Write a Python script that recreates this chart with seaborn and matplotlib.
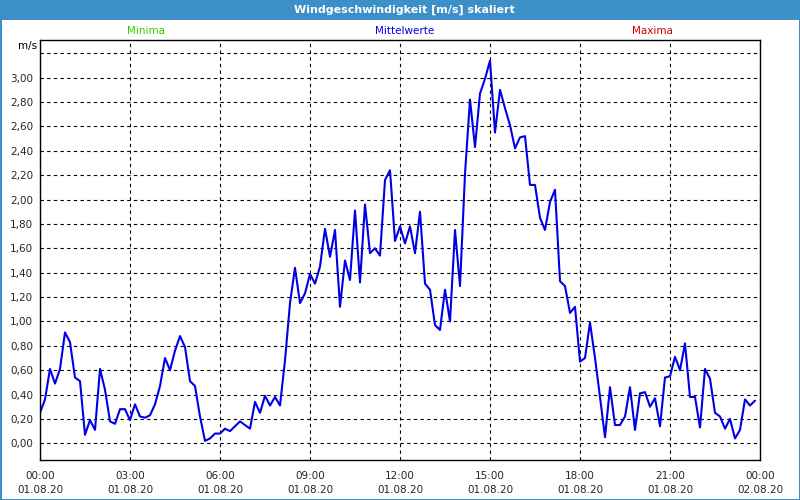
import numpy as np, pandas as pd
import seaborn as sns
import matplotlib.pyplot as plt
import matplotlib.dates as mdates
from matplotlib.patches import Rectangle
from matplotlib.ticker import FixedLocator, FuncFormatter

# 10-min mean wind speed, 01.08.20 00:00 - 23:50
wind_00_06 = [0.25, 0.36, 0.61, 0.49, 0.61, 0.91, 0.83, 0.54, 0.51, 0.07, 0.19, 0.11,
              0.61, 0.44, 0.18, 0.16, 0.28, 0.28, 0.19, 0.32, 0.22, 0.21, 0.23, 0.32,
              0.47, 0.70, 0.60, 0.76, 0.88, 0.79, 0.51, 0.47, 0.22, 0.02, 0.04, 0.08]
wind_06_12 = [0.08, 0.12, 0.10, 0.14, 0.18, 0.15, 0.12, 0.34, 0.25, 0.39, 0.31, 0.38,
              0.31, 0.68, 1.15, 1.44, 1.15, 1.23, 1.39, 1.31, 1.45, 1.76, 1.53, 1.75,
              1.12, 1.50, 1.34, 1.91, 1.32, 1.96, 1.56, 1.60, 1.54, 2.16, 2.24, 1.66]
wind_12_18 = [1.78, 1.64, 1.78, 1.56, 1.90, 1.31, 1.26, 0.97, 0.93, 1.26, 1.00, 1.75,
              1.29, 2.21, 2.82, 2.43, 2.87, 2.99, 3.14, 2.55, 2.90, 2.75, 2.61, 2.42,
              2.51, 2.52, 2.12, 2.12, 1.85, 1.75, 1.98, 2.08, 1.33, 1.29, 1.07, 1.12]
wind_18_24 = [0.67, 0.70, 0.99, 0.70, 0.38, 0.05, 0.46, 0.15, 0.15, 0.22, 0.46, 0.11,
              0.41, 0.42, 0.30, 0.37, 0.14, 0.54, 0.55, 0.71, 0.60, 0.82, 0.38, 0.38,
              0.13, 0.61, 0.53, 0.25, 0.22, 0.12, 0.20, 0.04, 0.11, 0.36, 0.31, 0.35]
values = wind_00_06 + wind_06_12 + wind_12_18 + wind_18_24
times = pd.date_range("2020-08-01 00:00", periods=len(values), freq="10min")
y_ticks = [0.0, 0.2, 0.4, 0.6, 0.8, 1.0, 1.2, 1.4, 1.6, 1.8, 2.0, 2.2, 2.4, 2.6, 2.8, 3.0, 3.2]

df = pd.DataFrame({"Zeit": times, "Mittelwerte": values})

sns.set_style("white")
plt.rcParams["font.family"] = ["DejaVu Sans"]

blue_frame = "#3d8fc7"
fig = plt.figure(figsize=(8, 5), dpi=100, facecolor="white",
                 linewidth=2, edgecolor=blue_frame)
ax = fig.add_axes([0.05, 0.08, 0.90, 0.84])

sns.lineplot(data=df, x="Zeit", y="Mittelwerte", color="#0000e6", linewidth=1.5, ax=ax)

ax.set_xlim(pd.Timestamp("2020-08-01 00:00"), pd.Timestamp("2020-08-02 00:00"))
ax.set_ylim(-0.137, 3.309)
ax.set_xlabel("")
ax.set_ylabel("")

ax.xaxis.set_major_locator(mdates.HourLocator(byhour=range(0, 24, 3)))
ax.xaxis.set_minor_locator(mdates.HourLocator())
ax.xaxis.set_major_formatter(mdates.DateFormatter("%H:%M\n%d.%m.%y"))
ax.yaxis.set_major_locator(FixedLocator(y_ticks))
ax.yaxis.set_major_formatter(FuncFormatter(
    lambda v, p: "" if v > 3.1 else f"{v:.2f}".replace(".", ",")))

ax.tick_params(axis="x", which="both", direction="out", length=4, width=0.8,
               color="black", labelsize=7.5, pad=4)
ax.tick_params(axis="y", length=0, labelsize=7.5, pad=5)
for lbl in ax.get_xticklabels():
    lbl.set_linespacing(1.45)

ax.grid(True, which="major", color="black", linestyle=(0, (3, 3)), linewidth=0.8)
for s in ax.spines.values():
    s.set_visible(True)
    s.set_color("black")
    s.set_linewidth(1)

# title bar
fig.patches.append(Rectangle((0, 1 - 20 / 500), 1, 20 / 500, transform=fig.transFigure,
                             facecolor=blue_frame, edgecolor="none", zorder=0))
fig.text(0.506, 1 - 10 / 500, "Windgeschwindigkeit [m/s] skaliert", color="white",
         fontsize=8, fontweight="bold", ha="center", va="center")

fig.text(146 / 800, 1 - 31 / 500, "Minima", color="#33cc00", fontsize=7.5, ha="center", va="center")
fig.text(405 / 800, 1 - 31 / 500, "Mittelwerte", color="#0000e6", fontsize=7.5, ha="center", va="center")
fig.text(652 / 800, 1 - 31 / 500, "Maxima", color="#cc0000", fontsize=7.5, ha="center", va="center")
fig.text(37 / 800, 1 - 46 / 500, "m/s", color="black", fontsize=7.5, ha="right", va="center")

fig.savefig("out.png", dpi=100)
